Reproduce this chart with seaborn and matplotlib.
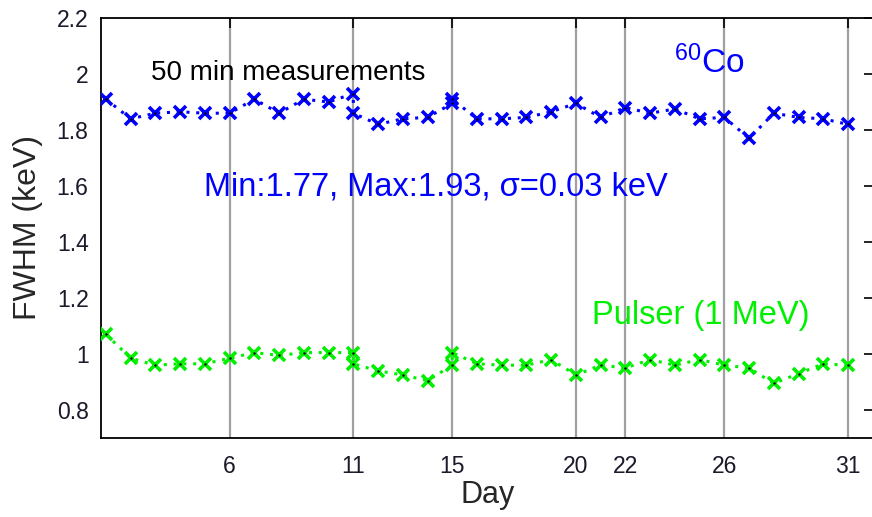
import numpy as np
import pandas as pd
import matplotlib
matplotlib.use("Agg")
import matplotlib.pyplot as plt
import seaborn as sns

# Data
co_days = [1, 2, 3, 4, 5, 6, 7, 8, 9, 10, 11, 11, 12, 13, 14, 15, 15, 16, 17, 18,
           19, 20, 21, 22, 23, 24, 25, 26, 27, 28, 29, 30, 31]
co_fwhm = [1.91, 1.84, 1.86, 1.865, 1.86, 1.86, 1.91, 1.86, 1.91, 1.90, 1.93, 1.86,
           1.82, 1.84, 1.845, 1.895, 1.91, 1.84, 1.84, 1.845, 1.865, 1.895, 1.845,
           1.88, 1.86, 1.875, 1.84, 1.845, 1.77, 1.86, 1.845, 1.84, 1.82]
pulser_days = co_days
pulser_fwhm = [1.07, 0.985, 0.96, 0.965, 0.965, 0.985, 1.005, 0.995, 1.005, 1.005,
               1.005, 0.965, 0.94, 0.925, 0.905, 0.96, 1.005, 0.965, 0.96, 0.96,
               0.98, 0.925, 0.96, 0.95, 0.98, 0.96, 0.98, 0.96, 0.95, 0.895, 0.93,
               0.965, 0.96]
x_ticks = [6, 11, 15, 20, 22, 26, 31]
y_ticks = [0.8, 1.0, 1.2, 1.4, 1.6, 1.8, 2.0, 2.2]
y_tick_labels = ["0.8", "1", "1.2", "1.4", "1.6", "1.8", "2", "2.2"]

sns.set_theme(style="white")
plt.rcParams['font.family'] = ['Liberation Sans', 'DejaVu Sans']
plt.rcParams['mathtext.fontset'] = 'custom'
plt.rcParams['mathtext.rm'] = 'Liberation Sans'
plt.rcParams['mathtext.it'] = 'Liberation Sans'

BLUE = "#0000ff"
GREEN = "#00f000"

fig = plt.figure(figsize=(8.72, 5.17), dpi=100)
ax = fig.add_axes([101/872, 1 - 438/517, (874 - 101)/872, (438 - 18)/517])

co_df = pd.DataFrame({"Day": co_days, "FWHM": co_fwhm})
pu_df = pd.DataFrame({"Day": pulser_days, "FWHM": pulser_fwhm})

for df, col in [(co_df, BLUE), (pu_df, GREEN)]:
    sns.lineplot(data=df, x="Day", y="FWHM", estimator=None, sort=False, ax=ax,
                 color=col, linestyle=(0, (1, 2.2)), linewidth=2.2,
                 marker="x", markersize=8, markeredgewidth=2.6,
                 markeredgecolor=col, zorder=3)
    sns.scatterplot(data=df, x="Day", y="FWHM", ax=ax, color="black", s=3,
                    linewidth=0, zorder=4)

ax.set_xlim(0.8, 32.05)
ax.set_ylim(0.7, 2.2)
ax.set_xticks(x_ticks)
ax.set_yticks(y_ticks)
ax.set_yticklabels(y_tick_labels)
ax.grid(axis="x", color="#a0a0a0", linewidth=1.6)
ax.grid(axis="y", visible=False)
ax.tick_params(direction="in", length=7, width=1.2, labelsize=16.5,
               top=True, right=True, colors="black", labelcolor="#1a1a2a")
ax.tick_params(axis="x", pad=12)
ax.tick_params(axis="y", pad=9)
for s in ax.spines.values():
    s.set_color("black")
    s.set_linewidth(1.3)

ax.set_xlabel("Day", fontsize=22, labelpad=2)
ax.set_ylabel("FWHM (keV)", fontsize=23, labelpad=10)

ax.text(8.35, 2.004, "50 min measurements", fontsize=20, color="black",
        ha="center", va="center")
ax.text(25.4, 2.04, r"$^{60}$Co", fontsize=24, color=BLUE,
        ha="center", va="center")
ax.text(14.33, 1.596, "Min:1.77, Max:1.93, \u03c3=0.03 keV", fontsize=23.5,
        color=BLUE, ha="center", va="center")
ax.text(25.05, 1.139, "Pulser (1 MeV)", fontsize=23.5, color=GREEN,
        ha="center", va="center")

fig.savefig("out.png", dpi=100)
